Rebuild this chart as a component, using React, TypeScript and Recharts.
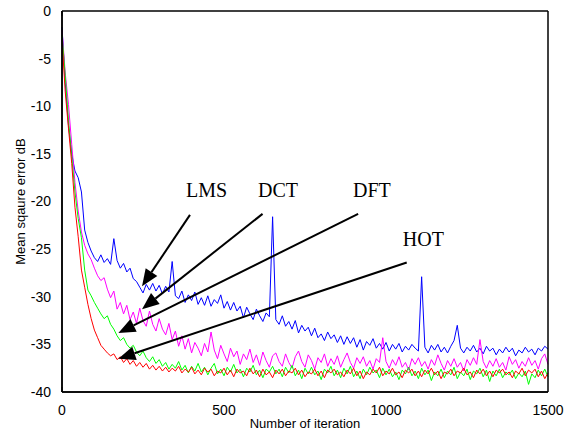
import React from 'react';
import { LineChart, Line, XAxis, YAxis, ReferenceLine, ReferenceDot } from 'recharts';

// iteration index, sampled every 10 steps
const iterations = Array.from({ length: 151 }, (_, i) => i * 10);

const lmsMse = [
  -1.7, -7.5, -12.0, -15.0, -16.8, -17.5, -19.0, -23.0, -24.3, -25.2,
  -25.9, -26.3, -25.6, -26.4, -26.0, -26.6, -23.9, -26.2, -27.0, -26.5,
  -27.4, -27.0, -28.1, -28.4, -29.0, -29.6, -28.7, -29.3, -28.6, -29.4,
  -28.8, -29.7, -28.9, -29.5, -26.3, -29.9, -30.2, -29.4, -30.6, -29.8,
  -30.4, -29.5, -30.8, -30.1, -30.9, -29.9, -31.0, -30.3, -30.7, -29.8,
  -31.2, -30.5, -31.4, -30.6, -31.5, -31.0, -32.2, -31.1, -31.8, -32.4,
  -31.3, -32.0, -32.6, -31.7, -32.1, -21.6, -32.4, -32.9, -32.0, -33.1,
  -32.6, -33.4, -32.5, -33.8, -33.0, -33.6, -33.2, -34.1, -33.3, -34.3,
  -33.9, -34.6, -33.7, -34.4, -34.0, -34.8, -34.1, -35.0, -34.2, -34.9,
  -34.3, -35.3, -34.5, -35.6, -34.7, -35.1, -34.4, -35.4, -34.9, -35.5,
  -34.8, -35.7, -35.0, -35.5, -34.9, -35.8, -35.2, -35.6, -35.0, -35.4,
  -35.7, -27.9, -35.3, -35.9, -35.1, -35.6, -35.0, -35.8, -35.3, -35.9,
  -35.2, -34.6, -33.0, -35.4, -35.9, -35.3, -35.7, -35.1, -35.8, -35.4,
  -36.0, -35.2, -35.7, -35.4, -36.1, -35.5, -35.9, -35.3, -35.8, -35.4,
  -36.2, -35.6, -35.9, -35.3, -35.8, -35.5, -36.1, -35.4, -35.7, -35.2,
  -35.5,
];

const dctMse = [
  -2.0, -6.5, -9.8, -14.0, -18.0, -21.0, -23.2, -24.6, -25.5, -26.1,
  -27.0, -27.8, -28.3, -28.0, -29.2, -30.1, -29.4, -31.3, -30.6, -31.8,
  -30.9, -32.4, -31.6, -32.8, -31.2, -32.5, -33.1, -31.5, -32.9, -33.6,
  -32.3, -33.4, -34.0, -32.8, -34.5, -33.6, -35.2, -34.1, -35.5, -34.4,
  -35.9, -34.8, -35.4, -36.2, -34.9, -35.8, -33.7, -35.6, -36.5, -35.1,
  -36.0, -36.8, -35.4, -36.3, -35.7, -37.1, -36.0, -36.6, -35.5, -36.9,
  -36.1, -37.2, -35.8, -36.7, -37.4, -36.2, -35.9, -36.8, -37.3, -36.0,
  -36.9, -37.5, -36.3, -35.7, -36.8, -37.4, -36.1, -36.7, -37.6, -36.4,
  -36.9, -36.0, -37.3, -36.5, -37.1, -36.2, -37.4, -36.6, -35.9, -36.9,
  -37.5, -36.4, -37.0, -36.3, -37.3, -36.7, -37.6, -36.5, -36.9, -34.3,
  -36.8, -37.5, -36.6, -37.2, -36.3, -37.4, -36.9, -37.7, -36.5, -37.1,
  -36.4, -37.3, -36.8, -37.6, -36.6, -37.2, -36.1, -37.0, -37.7, -36.7,
  -37.3, -36.5, -37.4, -36.9, -37.8, -36.6, -37.2, -36.4, -37.1, -34.5,
  -36.8, -37.5, -36.7, -37.3, -36.5, -37.4, -36.9, -37.7, -36.3, -37.1,
  -36.6, -37.5, -36.8, -37.3, -36.4, -37.2, -36.7, -37.6, -36.5, -36.0,
  -37.1,
];

const dftMse = [
  -2.5, -6.8, -11.5, -15.3, -19.0, -21.8, -23.8, -27.2, -29.3, -29.9,
  -30.6, -31.2, -31.8, -32.3, -32.0, -32.9, -33.4, -34.1, -34.6, -34.3,
  -35.0, -35.4, -35.1, -35.8, -36.2, -35.7, -36.4, -36.8, -36.3, -37.0,
  -36.6, -37.3, -36.9, -37.6, -37.1, -37.5, -36.8, -37.7, -37.2, -38.0,
  -37.3, -37.8, -37.0, -37.9, -37.4, -38.2, -37.5, -37.0, -38.1, -37.6,
  -38.3, -37.4, -37.9, -37.1, -38.0, -37.6, -38.4, -37.5, -37.9, -37.2,
  -38.2, -37.7, -38.5, -37.6, -37.9, -37.3, -38.1, -37.6, -38.4, -37.4,
  -38.0, -37.2, -38.3, -37.7, -38.6, -37.5, -38.1, -37.4, -38.2, -37.8,
  -38.7, -37.6, -38.0, -37.3, -38.3, -37.7, -38.5, -37.5, -38.1, -37.3,
  -38.4, -37.8, -38.6, -37.6, -38.2, -37.4, -38.0, -37.7, -38.5, -37.5,
  -38.2, -37.6, -38.4, -37.9, -38.7, -37.7, -38.1, -37.4, -38.3, -37.8,
  -38.6, -37.5, -38.2, -37.7, -38.8, -37.9, -38.3, -37.6, -38.5, -37.8,
  -38.2, -37.4, -38.6, -37.9, -38.3, -37.6, -38.7, -37.8, -38.1, -37.5,
  -38.4, -37.7, -38.9, -37.8, -38.3, -37.6, -38.5, -37.9, -38.2, -37.7,
  -38.6, -38.0, -38.4, -37.8, -39.2, -38.1, -38.5, -37.7, -38.3, -37.6,
  -38.4,
];

const hotMse = [
  -3.0, -8.5, -12.3, -16.0, -20.6, -23.7, -27.2, -29.0, -30.8, -32.3,
  -33.5, -34.3, -35.1, -35.5, -35.9, -36.2, -36.0, -36.6, -36.3, -36.9,
  -36.5, -37.1, -36.7, -37.3, -36.9, -37.4, -37.0, -37.6, -37.2, -37.7,
  -37.3, -37.8, -37.4, -37.9, -37.5, -37.8, -37.3, -38.0, -37.6, -37.9,
  -37.4, -38.1, -37.7, -38.2, -37.5, -37.9, -37.6, -38.3, -37.8, -38.0,
  -37.5, -38.2, -37.7, -38.4, -37.6, -38.0, -37.8, -38.3, -37.5, -38.1,
  -37.7, -38.4, -37.6, -38.2, -37.9, -38.5, -37.7, -38.1, -37.6, -38.3,
  -37.8, -38.0, -37.5, -38.2, -37.7, -38.4, -37.9, -38.1, -37.6, -38.3,
  -37.8, -38.5, -37.7, -38.0, -37.6, -38.2, -37.9, -38.4, -37.7, -38.1,
  -37.5, -38.3, -37.8, -38.6, -37.9, -38.2, -37.6, -38.0, -37.4, -38.3,
  -37.8, -38.1, -37.5, -38.2, -37.9, -38.5, -37.7, -38.0, -37.6, -38.3,
  -37.8, -38.4, -37.7, -38.1, -37.5, -38.2, -37.8, -38.6, -37.9, -38.1,
  -37.6, -38.3, -37.8, -38.0, -37.5, -38.2, -37.9, -38.5, -37.7, -38.1,
  -37.6, -38.3, -37.8, -38.4, -37.7, -38.0, -37.6, -38.2, -37.9, -38.5,
  -37.8, -38.1, -37.5, -38.3, -37.7, -38.0, -37.6, -38.4, -37.8, -38.6,
  -38.0,
];

const xTicks = [0, 500, 1000, 1500];
const yTicks = [-40, -35, -30, -25, -20, -15, -10, -5, 0];

// annotation labels: text, left/baseline in data units
const labels = [
  { text: 'LMS', x: 383, y: -19.5 },
  { text: 'DCT', x: 605, y: -19.5 },
  { text: 'DFT', x: 898, y: -19.5 },
  { text: 'HOT', x: 1052, y: -24.7 },
];

// arrows: from (x1,y1) to the tip (x2,y2)
const arrows = [
  { x1: 395, y1: -21.4, x2: 247, y2: -28.9 },
  { x1: 619, y1: -21.3, x2: 247, y2: -31.3 },
  { x1: 914, y1: -21.3, x2: 174, y2: -33.8 },
  { x1: 1064, y1: -26.4, x2: 174, y2: -36.5 },
];

const rows = iterations.map((it, i) => ({
  it,
  lms: lmsMse[i],
  dct: dctMse[i],
  dft: dftMse[i],
  hot: hotMse[i],
}));

const sans = 'Arial, "Liberation Sans", sans-serif';
const serif = '"Times New Roman", "Liberation Serif", serif';
const frame = { stroke: '#000', strokeWidth: 1.5 };
const tickLn = { stroke: '#000', strokeWidth: 1 };

function Arrow(p: any) {
  const { x1, y1, x2, y2 } = p;
  const dx = x2 - x1;
  const dy = y2 - y1;
  const len = Math.sqrt(dx * dx + dy * dy);
  const ux = dx / len;
  const uy = dy / len;
  const hl = 17;
  const hw = 7;
  const bx = x2 - ux * hl;
  const by = y2 - uy * hl;
  const pts = `${x2},${y2} ${bx - uy * hw},${by + ux * hw} ${bx + uy * hw},${by - ux * hw}`;
  return (
    <g>
      <line x1={x1} y1={y1} x2={bx} y2={by} stroke="#000" strokeWidth={2} />
      <polygon points={pts} fill="#000" />
    </g>
  );
}

function YLabel(p: any) {
  const vb = p.viewBox;
  const cx = vb.x + 20;
  const cy = vb.y + vb.height / 2;
  return (
    <text x={cx} y={cy} transform={`rotate(-90 ${cx} ${cy})`} textAnchor="middle" dominantBaseline="central"
      fontSize={13} fontFamily={sans} fill="#000">
      Mean sqaure error dB
    </text>
  );
}

function XLabel(p: any) {
  const vb = p.viewBox;
  return (
    <text x={vb.x + vb.width / 2} y={vb.y + 36} textAnchor="middle" fontSize={13} fontFamily={sans} fill="#000">
      Number of iteration
    </text>
  );
}

const noTick = () => <g />;

export default function App() {
  return (
    <div style={{ position: 'absolute', left: 0, top: 0, width: 566, height: 434, background: '#fff' }}>
      <LineChart width={566} height={434} data={rows} margin={{ top: 11, right: 18, bottom: 0, left: 0 }}>
        <XAxis dataKey="it" type="number" domain={[0, 1500]} ticks={xTicks} height={42}
          stroke="#000" axisLine={frame} tickLine={false} tickMargin={7}
          tick={{ fill: '#000', fontSize: 14, fontFamily: sans }} label={<XLabel />} />
        <YAxis type="number" domain={[-40, 0]} ticks={yTicks} width={62}
          stroke="#000" axisLine={frame} tickLine={false} tickMargin={5}
          tick={{ fill: '#000', fontSize: 14, fontFamily: sans }} label={<YLabel />} />

        {/* inward tick marks on all four sides */}
        <XAxis xAxisId="bt" orientation="bottom" mirror type="number" domain={[0, 1500]} ticks={xTicks}
          stroke="#000" axisLine={frame} tickLine={tickLn} tickSize={5} tick={noTick} />
        <XAxis xAxisId="top" orientation="top" mirror type="number" domain={[0, 1500]} ticks={xTicks}
          stroke="#000" axisLine={frame} tickLine={tickLn} tickSize={5} tick={noTick} />
        <YAxis yAxisId="lt" orientation="left" mirror type="number" domain={[-40, 0]} ticks={yTicks}
          stroke="#000" axisLine={frame} tickLine={tickLn} tickSize={5} tick={noTick} />
        <YAxis yAxisId="right" orientation="right" mirror type="number" domain={[-40, 0]} ticks={yTicks}
          stroke="#000" axisLine={frame} tickLine={tickLn} tickSize={5} tick={noTick} />

        <Line dataKey="lms" stroke="#0000ff" strokeWidth={1} dot={false} isAnimationActive={false} />
        <Line dataKey="dct" stroke="#ff00ff" strokeWidth={1} dot={false} isAnimationActive={false} />
        <Line dataKey="dft" stroke="#00ff00" strokeWidth={1} dot={false} isAnimationActive={false} />
        <Line dataKey="hot" stroke="#ff0000" strokeWidth={1} dot={false} isAnimationActive={false} />

        {arrows.map((a, i) => (
          <ReferenceLine key={'a' + i} segment={[{ x: a.x1, y: a.y1 }, { x: a.x2, y: a.y2 }]} shape={Arrow} />
        ))}
        {labels.map((l) => (
          <ReferenceDot key={l.text} x={l.x} y={l.y} r={1}
            shape={(p: any) => (
              <text x={p.cx} y={p.cy} fontSize={20} fontFamily={serif} fill="#000">{l.text}</text>
            )} />
        ))}
      </LineChart>
    </div>
  );
}
